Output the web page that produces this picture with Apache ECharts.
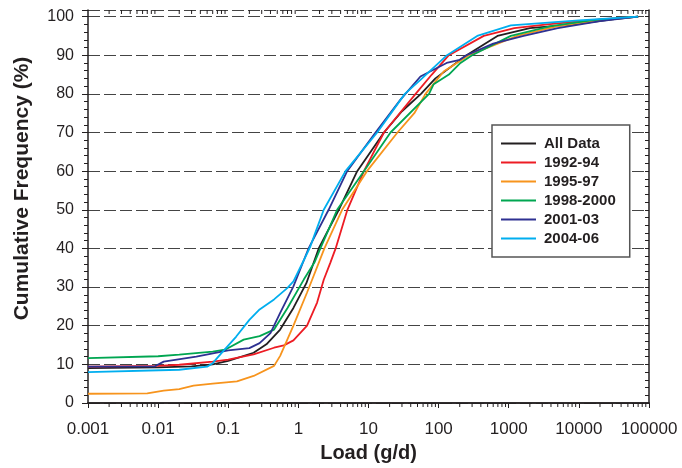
<!DOCTYPE html>
<html><head><meta charset="utf-8">
<script src="https://cdn.jsdelivr.net/npm/echarts@6/dist/echarts.min.js"></script>
<style>html,body{margin:0;padding:0;background:#fff}#c{width:682px;height:468px}</style>
</head><body><div id="c"></div>
<script>
const seriesNames = ['All Data', '1992-94', '1995-97', '1998-2000', '2001-03', '2004-06'];
const xTickLabels = ['0.001', '0.01', '0.1', '1', '10', '100', '1000', '10000', '100000'];

const loadAll = [0.001, 0.01, 0.03, 0.06, 0.1, 0.23, 0.35, 0.55, 0.85, 1.3, 1.95, 3.77, 6.9, 16.6, 30, 56, 90, 250, 690, 2000, 8500, 30000, 70000];
const pctAll  = [9.0, 9.2, 9.5, 10.0, 10.9, 13.0, 15.2, 19.0, 24.6, 31.0, 40, 50, 60, 70, 75.5, 80, 84, 90, 95, 97, 98, 99.3, 100];

const load9294 = [0.001, 0.01, 0.02, 0.06, 0.1, 0.23, 0.45, 0.62, 0.85, 1.33, 1.85, 2.3, 2.87, 3.4, 5, 8.6, 16.6, 47, 80, 140, 440, 1200, 3550, 20000, 70000];
const pct9294  = [9.4, 9.6, 9.9, 10.7, 11.2, 12.6, 14.3, 14.9, 16.2, 20, 26, 31.9, 36.4, 40, 50, 60, 70, 80, 85, 90, 95, 97, 98, 99.3, 100];

const load9597 = [0.001, 0.007, 0.012, 0.02, 0.032, 0.06, 0.133, 0.23, 0.45, 0.55, 0.85, 1.33, 1.57, 2.35, 4.2, 9.5, 25.9, 45, 65, 118, 270, 1320, 5000, 20000, 70000];
const pct9597  = [2.4, 2.5, 3.2, 3.6, 4.5, 5.0, 5.6, 7.0, 9.6, 12.2, 20, 28.6, 31.9, 40, 50, 60, 70, 75, 80, 85.8, 90, 95, 97.5, 99, 100];

const load9800 = [0.001, 0.01, 0.02, 0.06, 0.09, 0.166, 0.28, 0.45, 0.7, 1.2, 1.7, 2.06, 3.57, 8.6, 20.6, 73, 85, 140, 205, 300, 1070, 4000, 15000, 70000];
const pct9800  = [11.6, 12.1, 12.5, 13.3, 13.8, 16.4, 17.3, 19.0, 24.6, 32, 36.4, 40, 50, 60, 70, 80, 82.5, 85, 88, 90, 95, 97.5, 99, 100];

const load0103 = [0.001, 0.009, 0.012, 0.035, 0.1, 0.2, 0.28, 0.4, 0.55, 0.85, 1.2, 1.4, 1.7, 2.7, 4.96, 12.6, 28.6, 55, 130, 200, 250, 600, 1630, 5000, 20000, 70000];
const pct0103  = [9.4, 9.5, 10.7, 12.0, 13.6, 14.2, 15.5, 18.1, 23.3, 30.2, 37, 40, 43, 50, 60, 70, 78.5, 84.5, 88, 88.8, 90, 93, 95, 97, 98.8, 100];

const load0406 = [0.001, 0.02, 0.05, 0.06, 0.08, 0.13, 0.2, 0.28, 0.45, 0.7, 0.85, 1.2, 1.48, 1.7, 2.3, 4.7, 13.3, 33, 55, 132, 355, 1070, 10000, 70000];
const pct0406  = [8.0, 8.6, 9.4, 10.3, 12.9, 17.2, 21.5, 24.2, 26.8, 29.8, 31.5, 37, 40.5, 43.5, 50, 60, 70, 80, 83.6, 90, 95, 97.7, 99, 100];

const colors = ['#231f20', '#ed1c24', '#f7941d', '#00a651', '#2e3192', '#00aeef'];
const loads = [loadAll, load9294, load9597, load9800, load0103, load0406];
const pcts = [pctAll, pct9294, pct9597, pct9800, pct0103, pct0406];

const X_MIN = 0.001, X_MAX = 100000, Y_TOP = 101.7;
const minorTickVals = [];
for (let e = -3; e < 5; e++) for (let m = 2; m <= 9; m++) minorTickVals.push([m * Math.pow(10, e)]);

const fmtLog = v => { const e = Math.round(Math.log10(v)); return xTickLabels[e + 3] || ''; };
const axisCol = '#231f20';
const font = '"Liberation Sans", Arial, sans-serif';

const lineSeries = seriesNames.map((n, i) => ({
  name: n, type: 'line', showSymbol: false, symbol: 'none',
  data: loads[i].map((x, j) => [x, pcts[i][j]]),
  lineStyle: { color: colors[i], width: 1.8 }, itemStyle: { color: colors[i] },
  z: 3
}));

const chart = echarts.init(document.getElementById('c'), null, { renderer: 'canvas' });
chart.setOption({
  animation: false,
  backgroundColor: '#fff',
  grid: { left: 88, right: 33, top: 10, bottom: 65, containLabel: false },
  xAxis: [{
    type: 'log', logBase: 10, min: X_MIN, max: X_MAX, position: 'bottom',
    axisLine: { show: true, lineStyle: { color: axisCol, width: 1.5 } },
    axisTick: { show: true, inside: false, length: 5, lineStyle: { color: axisCol, width: 1 } },
    axisLabel: { formatter: fmtLog, color: axisCol, fontSize: 17, fontFamily: font, margin: 18 },
    splitLine: { show: false },
    name: 'Load (g/d)', nameLocation: 'middle', nameGap: 40,
    nameTextStyle: { fontSize: 20, fontWeight: 'bold', color: axisCol, fontFamily: font }
  }, {
    type: 'log', logBase: 10, min: X_MIN, max: X_MAX, position: 'top',
    axisLine: { show: true, lineStyle: { color: axisCol, width: 1.5 } },
    axisTick: { show: true, inside: true, length: 4, lineStyle: { color: axisCol, width: 1 } },
    axisLabel: { show: false }, splitLine: { show: false }
  }],
  yAxis: [{
    type: 'value', min: 0, max: Y_TOP, interval: 10, position: 'left',
    axisLine: { show: true, lineStyle: { color: axisCol, width: 1.5 } },
    axisTick: { show: true, inside: false, length: 6, lineStyle: { color: axisCol, width: 1 } },
    minorTick: { show: true, splitNumber: 5, length: 4, lineStyle: { color: axisCol, width: 1 } },
    axisLabel: { color: axisCol, fontSize: 16, fontFamily: font, margin: 14, showMaxLabel: false,
      formatter: v => (Math.abs(v % 10) < 1e-6 ? String(v) : '') },
    splitLine: { show: true, lineStyle: { color: '#444', width: 1, type: [12, 4] } },
    name: 'Cumulative Frequency (%)', nameLocation: 'middle', nameGap: 55,
    nameTextStyle: { fontSize: 21, fontWeight: 'bold', color: axisCol, fontFamily: font, padding: [0, 0, 0, 36] }
  }, {
    type: 'value', min: 0, max: Y_TOP, interval: 10, position: 'right',
    axisLine: { show: true, lineStyle: { color: axisCol, width: 1.5 } },
    axisTick: { show: true, inside: true, length: 4, lineStyle: { color: axisCol, width: 1 } },
    minorTick: { show: true, splitNumber: 5, length: 4, lineStyle: { color: axisCol, width: 1 } },
    axisLabel: { show: false }, splitLine: { show: false }
  }],
  legend: {
    data: seriesNames, orient: 'vertical', left: 492, top: 125,
    padding: [9, 14, 9, 9], itemGap: 0, itemWidth: 35, itemHeight: 2, icon: 'rect',
    backgroundColor: '#fff', borderColor: '#555', borderWidth: 1.5,
    textStyle: { fontSize: 15, fontWeight: 'bold', color: axisCol, fontFamily: font, lineHeight: 19, padding: [0, 0, 0, 3] }
  },
  series: lineSeries.concat([{
    type: 'custom', name: 'minorTicks', silent: true, clip: false, xAxisIndex: 0, yAxisIndex: 0,
    data: minorTickVals.map(v => [v[0], 0]),
    renderItem: (params, api) => {
      const x = api.value(0);
      const pb = api.coord([x, 0]);
      const pt = api.coord([x, Y_TOP]);
      const st = { stroke: axisCol, lineWidth: 1 };
      return { type: 'group', children: [
        { type: 'line', shape: { x1: pb[0], y1: pb[1], x2: pb[0], y2: pb[1] + 4 }, style: st },
        { type: 'line', shape: { x1: pt[0], y1: pt[1], x2: pt[0], y2: pt[1] + 4 }, style: st }
      ]};
    },
    z: 5
  }])
});
</script></body></html>
